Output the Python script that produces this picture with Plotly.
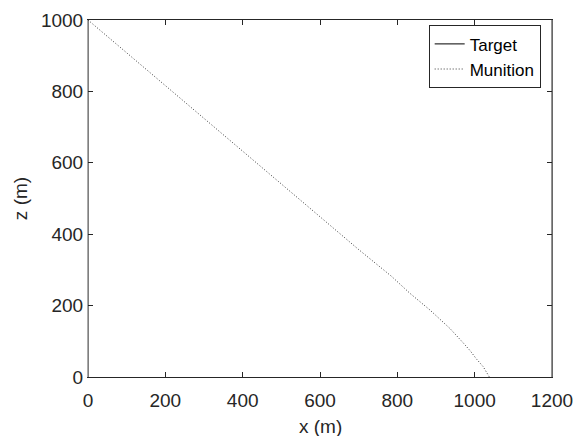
import plotly.graph_objects as go

# Munition trajectory
munition_x = [0, 100, 200, 300, 400, 500, 600, 700, 785, 833, 884, 936, 970, 988, 1005, 1022, 1038]
munition_z = [1000, 908, 816, 724, 632, 540, 449, 357, 282, 234, 188, 136, 96, 74, 50, 29, 0]

# Target (along x = 0)
target_x = [0, 0]
target_z = [0, 1000]

x_ticks = [0, 200, 400, 600, 800, 1000, 1200]
z_ticks = [0, 200, 400, 600, 800, 1000]

font_family = "Liberation Sans, Arial, sans-serif"
dark = "#262626"

fig = go.Figure()
fig.add_trace(go.Scatter(x=target_x, y=target_z, mode="lines", name="Target",
                         line=dict(color="black", width=1)))
fig.add_trace(go.Scatter(x=munition_x, y=munition_z, mode="lines", name="Munition",
                         line=dict(color="#3a3a3a", width=1, dash="1px,2px")))

fig.update_layout(
    width=576, height=436,
    margin=dict(l=88, r=24, t=20, b=59, autoexpand=False),
    paper_bgcolor="white", plot_bgcolor="white",
    font=dict(family=font_family, size=19, color=dark),
    showlegend=True,
    legend=dict(x=0.9756, y=0.985, xanchor="right", yanchor="top",
                bordercolor=dark, borderwidth=1, bgcolor="white",
                font=dict(size=17, color="black"),
                tracegroupgap=0, itemwidth=30),
)
fig.update_xaxes(
    range=[0, 1200], tickvals=x_ticks, ticktext=[str(v) for v in x_ticks],
    showgrid=False, zeroline=False, showline=True, linecolor=dark, linewidth=1,
    mirror="allticks", ticks="inside", ticklen=5, tickcolor=dark, automargin=False,
    ticklabelstandoff=6,
)
fig.update_yaxes(
    range=[0, 1000], tickvals=z_ticks, ticktext=[str(v) for v in z_ticks],
    showgrid=False, zeroline=False, showline=True, linecolor="#aaaaaa", linewidth=1,
    mirror="allticks", ticks="inside", ticklen=5, tickcolor=dark, automargin=False,
    title=dict(text="z (m)", standoff=8, font=dict(size=19)),
)
# x-axis title
fig.add_annotation(text="x (m)", xref="paper", yref="paper", x=0.5, y=-0.138,
                   xanchor="center", yanchor="middle", showarrow=False,
                   font=dict(size=19, color=dark))
# right border in dark colour
fig.add_shape(type="line", xref="paper", yref="paper", x0=1, x1=1, y0=0, y1=1,
              line=dict(color=dark, width=1))

fig.write_html("out.html")
